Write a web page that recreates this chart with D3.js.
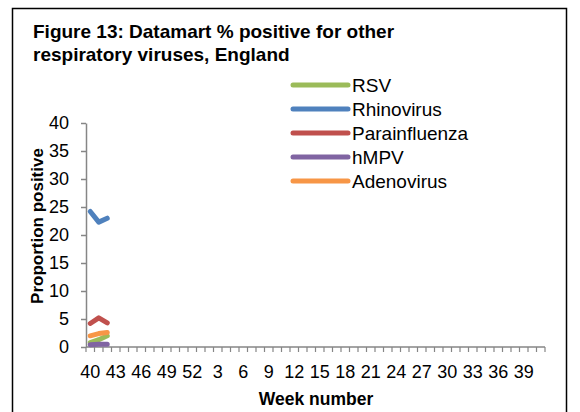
<!doctype html>
<html lang="en">
<head>
<meta charset="utf-8">
<title>Figure 13: Datamart % positive</title>
<script src="https://cdn.jsdelivr.net/npm/d3@7"></script>
<style>
  body { margin: 0; background: #fff; }
  svg text { font-family: "Liberation Sans", Arial, sans-serif; fill: #000; }
</style>
</head>
<body>
<div id="chart"></div>
<script>

// week numbers for the season, 40..52 then 1..41
const weeks = d3.range(40, 53).concat(d3.range(1, 42));

// only the first three weeks have values
const rsv = [0.8, 1.3, 2.0];
const rhinovirus = [24.2, 22.3, 23.0];
const parainfluenza = [4.2, 5.2, 4.3];
const hmpv = [0.4, 0.5, 0.5];
const adenovirus = [2.0, 2.4, 2.6];

const seriesNames = ['RSV', 'Rhinovirus', 'Parainfluenza', 'hMPV', 'Adenovirus'];
const seriesValues = [rsv, rhinovirus, parainfluenza, hmpv, adenovirus];
const seriesColors = ['#9bbb59', '#4f81bd', '#c0504d', '#8064a2', '#f79646'];

const yTicks = [0, 5, 10, 15, 20, 25, 30, 35, 40];

const W = 580, H = 412;
const plot = {left: 86, right: 545, top: 123, bottom: 347};

const svg = d3.select('#chart').append('svg')
    .attr('width', W)
    .attr('height', H);

// outer frame (bottom edge runs off the picture)
svg.append('rect')
    .attr('x', 12.5).attr('y', 8.5)
    .attr('width', 554).attr('height', 420)
    .style('fill', 'none')
    .style('stroke', '#000')
    .style('stroke-width', 1.5);

svg.append('text')
    .attr('x', 33).attr('y', 38)
    .style('font-size', '19px')
    .style('font-weight', 'bold')
    .text('Figure 13: Datamart % positive for other');
svg.append('text')
    .attr('x', 33).attr('y', 61)
    .style('font-size', '19px')
    .style('font-weight', 'bold')
    .text('respiratory viruses, England');

const x = d3.scaleBand()
    .domain(d3.range(weeks.length))
    .range([plot.left, plot.right]);

const y = d3.scaleLinear()
    .domain([0, 40])
    .range([plot.bottom, plot.top]);

// y axis
const yAxis = svg.append('g')
    .attr('transform', 'translate(' + plot.left + ',0)')
    .call(d3.axisLeft(y).tickValues(yTicks).tickSize(5).tickPadding(12).tickSizeOuter(0));
yAxis.select('.domain').style('stroke', '#868686').style('stroke-width', 1.5);
yAxis.selectAll('.tick line').style('stroke', '#868686').style('stroke-width', 1.5);
yAxis.selectAll('text')
    .style('font-size', '18px')
    .style('font-family', '"Liberation Sans", Arial, sans-serif')
    .style('fill', '#000');

// x axis: line, tick marks between categories, labels every third week
const xg = svg.append('g');
xg.append('line')
    .attr('x1', plot.left).attr('x2', plot.right)
    .attr('y1', plot.bottom).attr('y2', plot.bottom)
    .style('stroke', '#868686').style('stroke-width', 1.5);

const tickPos = d3.range(weeks.length + 1).map(i => plot.left + i * x.step());
xg.selectAll('line.tick')
    .data(tickPos)
    .join('line')
    .attr('class', 'tick')
    .attr('x1', d => d).attr('x2', d => d)
    .attr('y1', plot.bottom).attr('y2', plot.bottom + 5)
    .style('stroke', '#868686').style('stroke-width', 1.2);

xg.selectAll('text')
    .data(weeks.map((w, i) => ({w, i})).filter(d => d.i % 3 === 0))
    .join('text')
    .attr('x', d => x(d.i) + x.bandwidth() / 2)
    .attr('y', plot.bottom + 31)
    .attr('text-anchor', 'middle')
    .style('font-size', '18px')
    .text(d => d.w);

svg.append('text')
    .attr('x', 316).attr('y', 405)
    .attr('text-anchor', 'middle')
    .style('font-size', '17.5px')
    .style('font-weight', 'bold')
    .text('Week number');

svg.append('text')
    .attr('transform', 'translate(43,226) rotate(-90)')
    .attr('text-anchor', 'middle')
    .style('font-size', '17px')
    .style('font-weight', 'bold')
    .text('Proportion positive');

// series lines
const line = d3.line()
    .x((d, i) => x(i) + x.bandwidth() / 2)
    .y(d => y(d));

svg.append('g')
    .selectAll('path')
    .data(seriesValues)
    .join('path')
    .attr('d', line)
    .style('fill', 'none')
    .style('stroke', (d, i) => seriesColors[i])
    .style('stroke-width', 5)
    .style('stroke-linecap', 'round')
    .style('stroke-linejoin', 'round');

// legend
const legend = svg.append('g')
    .selectAll('g')
    .data(seriesNames)
    .join('g')
    .attr('transform', (d, i) => 'translate(293,' + (85 + i * 24) + ')');

legend.append('line')
    .attr('x1', 0).attr('x2', 55)
    .style('stroke', (d, i) => seriesColors[i])
    .style('stroke-width', 5)
    .style('stroke-linecap', 'round');

legend.append('text')
    .attr('x', 59).attr('y', 7)
    .style('font-size', '19px')
    .text(d => d);

</script>
</body>
</html>
